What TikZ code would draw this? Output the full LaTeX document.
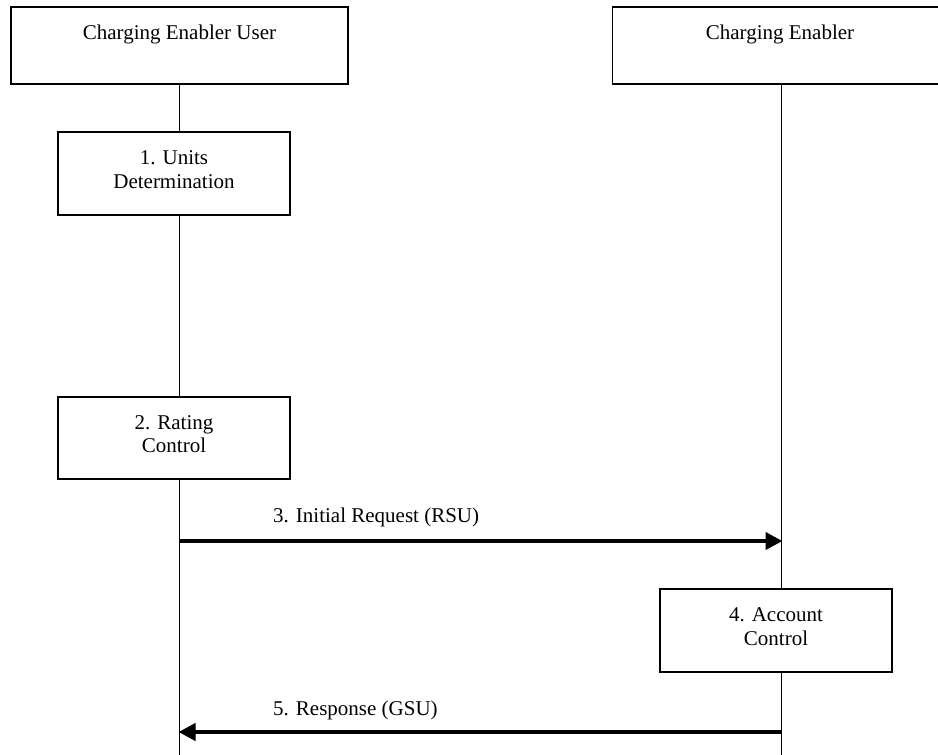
\documentclass[tikz,border=0pt]{standalone}
\usepackage{fontspec}
\setmainfont{Liberation Serif}
\usetikzlibrary{arrows.meta}
\begin{document}
\begin{tikzpicture}[x=1pt,y=-1pt,
  box/.style={draw,line width=1.2pt,fill=white,inner sep=0pt,minimum width=#1},
  txt/.style={font=\fontsize{21}{25}\selectfont,inner sep=0pt,anchor=base},
  life/.style={line width=1.1pt},
  msg/.style={line width=4pt,-{Triangle[length=17pt,width=17pt]},shorten >=-1pt}]
\useasboundingbox (0,0) rectangle (938,755);
% actor boxes
\node[box=337pt,minimum height=77pt] (ceu) at (179.5,45.5) {};
\node[box=338pt,minimum height=77pt] (ce) at (781.5,45.5) {};
\node[txt] (ceuT) at (179.5,39) {Charging Enabler User};
\node[txt] (ceT) at (780,39) {Charging Enabler};
% lifeline ends
\coordinate (ceuEnd) at (179.5,760);
\coordinate (ceEnd) at (781.5,760);
\draw[life] (ceu.south) -- (ceuEnd);
\draw[life] (ce.south) -- (ceEnd);
% step boxes
\node[box=232pt,minimum height=83pt] (ud) at (174,173.5) {};
\node[txt] (udA) at (174,164) {1. Units};
\node[txt] (udB) at (174,188) {Determination};
\node[box=232pt,minimum height=82pt] (rc) at (174,438) {};
\node[txt] (rcA) at (174,429) {2. Rating};
\node[txt] (rcB) at (174,452) {Control};
\node[box=232pt,minimum height=83pt] (ac) at (776,630.5) {};
\node[txt] (acA) at (776,621) {4. Account};
\node[txt] (acB) at (776,645) {Control};
% messages
\coordinate (m3s) at (179.5,541);
\coordinate (m3e) at (781.5,541);
\coordinate (m5s) at (781.5,732);
\coordinate (m5e) at (179.5,732);
\draw[msg] (m3s) -- (m3e);
\draw[msg] (m5s) -- (m5e);
\node[txt,anchor=base west] (m3T) at (273,522) {3. Initial Request (RSU)};
\node[txt,anchor=base west] (m5T) at (273,715) {5. Response (GSU)};
\end{tikzpicture}
\end{document}
